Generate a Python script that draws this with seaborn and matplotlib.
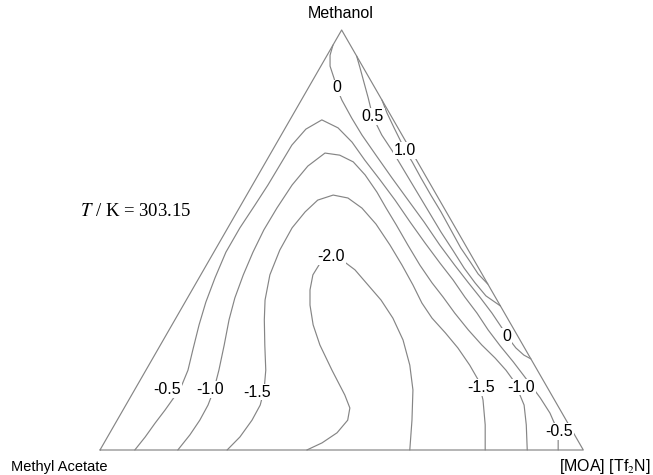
import numpy as np
import pandas as pd
import matplotlib
matplotlib.use("Agg")
import matplotlib.pyplot as plt
import seaborn as sns

# Iso-lines of the ternary excess property, given as mole fractions
# (x_MeOH, x_IL) along each line; x_MA = 1 - x_MeOH - x_IL.
x_meoh_n20 = [0.000, 0.017, 0.041, 0.071, 0.100, 0.131, 0.190, 0.250, 0.298, 0.345, 0.381, 0.417,
              0.445, 0.460, 0.452, 0.429, 0.393, 0.357, 0.314, 0.262, 0.202, 0.143, 0.071, 0.000]
x_il_n20 = [0.428, 0.451, 0.470, 0.477, 0.467, 0.441, 0.385, 0.330, 0.292, 0.262, 0.244, 0.232,
            0.233, 0.246, 0.275, 0.313, 0.358, 0.403, 0.449, 0.496, 0.540, 0.576, 0.610, 0.641]

x_meoh_n15 = [0.000, 0.031, 0.071, 0.107, 0.143, 0.190, 0.250, 0.310, 0.357, 0.417, 0.476, 0.529,
              0.567, 0.595, 0.607, 0.600, 0.576, 0.538, 0.488, 0.440, 0.393, 0.350, 0.314, 0.279,
              0.243, 0.202, 0.167, 0.119, 0.060, 0.000]
x_il_n15 = [0.263, 0.274, 0.279, 0.278, 0.268, 0.248, 0.216, 0.185, 0.163, 0.143, 0.134, 0.133,
            0.141, 0.153, 0.179, 0.213, 0.254, 0.302, 0.356, 0.405, 0.451, 0.491, 0.530, 0.575,
            0.619, 0.664, 0.699, 0.733, 0.767, 0.797]

x_meoh_n10 = [0.000, 0.036, 0.071, 0.107, 0.143, 0.190, 0.250, 0.310, 0.362, 0.417, 0.471, 0.524,
              0.576, 0.631, 0.676, 0.707, 0.702, 0.686, 0.655, 0.614, 0.576, 0.536, 0.488, 0.440,
              0.398, 0.364, 0.326, 0.286, 0.250, 0.219, 0.190, 0.167, 0.143, 0.107, 0.060, 0.000]
x_il_n10 = [0.161, 0.168, 0.171, 0.170, 0.164, 0.151, 0.132, 0.112, 0.098, 0.088, 0.081, 0.077,
            0.078, 0.082, 0.092, 0.112, 0.145, 0.181, 0.221, 0.266, 0.304, 0.345, 0.393, 0.442,
            0.488, 0.528, 0.571, 0.619, 0.665, 0.708, 0.745, 0.771, 0.793, 0.824, 0.852, 0.884]

x_meoh_n05 = [0.000, 0.031, 0.064, 0.095, 0.129, 0.155, 0.190, 0.238, 0.298, 0.352, 0.410, 0.471,
              0.529, 0.583, 0.631, 0.679, 0.726, 0.764, 0.786, 0.767, 0.733, 0.690, 0.643, 0.595,
              0.543, 0.493, 0.445, 0.405, 0.364, 0.326, 0.286, 0.248, 0.210, 0.167, 0.124, 0.088,
              0.055, 0.024, 0.000]
x_il_n05 = [0.072, 0.078, 0.082, 0.087, 0.091, 0.092, 0.087, 0.073, 0.056, 0.043, 0.033, 0.025,
            0.025, 0.029, 0.032, 0.033, 0.034, 0.044, 0.066, 0.109, 0.155, 0.203, 0.258, 0.313,
            0.370, 0.426, 0.481, 0.528, 0.573, 0.617, 0.660, 0.704, 0.750, 0.800, 0.849, 0.887,
            0.916, 0.936, 0.948]

x_meoh_00 = [0.964, 0.940, 0.914, 0.886, 0.862, 0.833, 0.790, 0.750, 0.702, 0.648, 0.595, 0.543,
             0.488, 0.440, 0.400, 0.364, 0.326, 0.290, 0.267, 0.243, 0.226, 0.217]
x_il_00 = [0.000, 0.006, 0.019, 0.041, 0.059, 0.084, 0.126, 0.167, 0.220, 0.280, 0.340, 0.399,
           0.459, 0.514, 0.561, 0.604, 0.648, 0.687, 0.711, 0.739, 0.764, 0.783]

x_meoh_05 = [0.938, 0.910, 0.876, 0.838, 0.793, 0.750, 0.710, 0.662, 0.614, 0.567, 0.519, 0.474,
             0.433, 0.398, 0.367, 0.343]
x_il_05 = [0.062, 0.083, 0.108, 0.136, 0.168, 0.208, 0.251, 0.300, 0.349, 0.397, 0.446, 0.494,
           0.537, 0.577, 0.615, 0.657]

x_meoh_10 = [0.833, 0.802, 0.767, 0.738, 0.714, 0.686, 0.648, 0.607, 0.567, 0.524, 0.481, 0.448,
             0.419, 0.395]
x_il_10 = [0.167, 0.193, 0.225, 0.252, 0.274, 0.303, 0.340, 0.381, 0.422, 0.464, 0.506, 0.542,
           0.573, 0.605]

levels = [-2.0, -1.5, -1.0, -0.5, 0.0, 0.5, 1.0]
iso_meoh = [x_meoh_n20, x_meoh_n15, x_meoh_n10, x_meoh_n05, x_meoh_00, x_meoh_05, x_meoh_10]
iso_il = [x_il_n20, x_il_n15, x_il_n10, x_il_n05, x_il_00, x_il_05, x_il_10]

# Inline labels: level and the composition where each label sits
label_level = [0.0, 0.5, 1.0, -2.0, 0.0, -0.5, -1.0, -1.5, -1.5, -1.0, -0.5]
label_meoh = [0.862, 0.793, 0.714, 0.460, 0.271, 0.143, 0.143, 0.138, 0.148, 0.150, 0.043]
label_il = [0.059, 0.168, 0.274, 0.248, 0.706, 0.067, 0.156, 0.256, 0.715, 0.796, 0.928]

# Corners of the diagram (x_MeOH, x_IL): Methyl Acetate, [MOA][Tf2N], Methanol
corner_meoh = [0.0, 0.0, 1.0, 0.0]
corner_il = [0.0, 1.0, 0.0, 0.0]

H = np.sqrt(3) / 2


def to_xy(meoh, il):
    meoh = np.asarray(meoh, float)
    il = np.asarray(il, float)
    return il + meoh / 2, meoh * H


rows = []
for lev, mm, ii in zip(levels, iso_meoh, iso_il):
    X, Y = to_xy(mm, ii)
    for k, (x, y) in enumerate(zip(X, Y)):
        rows.append({"level": lev, "order": k, "X": x, "Y": y})
iso_df = pd.DataFrame(rows)

fX, fY = to_xy(corner_meoh, corner_il)
frame_df = pd.DataFrame({"X": fX, "Y": fY, "order": range(len(fX))})

sns.set_theme(style="white")
plt.rcParams["mathtext.fontset"] = "stix"

fig = plt.figure(figsize=(6.53, 4.75), dpi=100)
ax = fig.add_axes([100 / 653, 25 / 475, 483.3 / 653, 420 / 475])
ax.set_xlim(0, 1)
ax.set_ylim(0, H)
ax.axis("off")

line_color = "#858585"
sns.lineplot(data=frame_df, x="X", y="Y", sort=False, estimator=None,
             color=line_color, lw=0.85, ax=ax, clip_on=False)
sns.lineplot(data=iso_df, x="X", y="Y", units="level", sort=False, estimator=None,
             color=line_color, lw=0.85, ax=ax, clip_on=False)

for lev, mm, ii in zip(label_level, label_meoh, label_il):
    x, y = to_xy(mm, ii)
    txt = "0" if lev == 0 else f"{lev:.1f}"
    ax.text(float(x), float(y), txt, ha="center", va="center", fontsize=11.5,
            family="Liberation Sans", color="black", zorder=5,
            bbox=dict(boxstyle="square,pad=0.06", fc="white", ec="none"))

fig.text(341 / 653, 1 - 13 / 475, "Methanol", ha="center", va="center",
         fontsize=11.5, family="Liberation Sans", color="black")
fig.text(11 / 653, 1 - 467 / 475, "Methyl Acetate", ha="left", va="center",
         fontsize=10.5, family="Liberation Sans", color="black")
fig.text(559 / 653, 1 - 467 / 475, "[MOA] [Tf$_2$N]", ha="left", va="center",
         fontsize=11.5, family="Liberation Sans", color="black")
fig.text(80 / 653, 1 - 212 / 475, "$T$ / K = 303.15", ha="left", va="center",
         fontsize=13.5, family="Liberation Serif", color="black")

fig.savefig("out.png", dpi=100, facecolor="white")
